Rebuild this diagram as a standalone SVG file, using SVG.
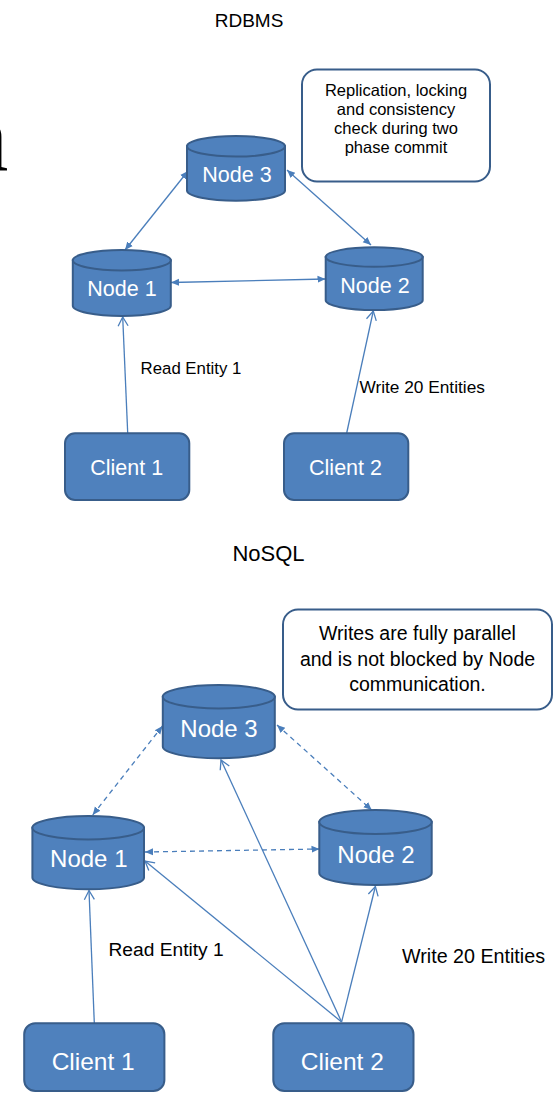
<svg xmlns="http://www.w3.org/2000/svg" width="558" height="1094" viewBox="0 0 558 1094">
<style>
  .title{font-family:"Liberation Sans",Arial,sans-serif;fill:#000;text-anchor:middle}
  .lbl{font-family:"Liberation Sans",Arial,sans-serif;fill:#000}
  .note{font-family:"Liberation Sans",Arial,sans-serif;fill:#000;text-anchor:middle}
  .ntxt{font-family:"Liberation Sans",Arial,sans-serif;fill:#fff;text-anchor:middle}
  .shape{fill:#4F81BD;stroke:#385D8A;stroke-width:2}
  .box{fill:#fff;stroke:#385D8A;stroke-width:2}
  .con{fill:none;stroke:#4A7EBB;stroke-width:1.3}
  .dash{stroke-dasharray:5 4}
</style>
<defs>
  <marker id="tri" markerUnits="userSpaceOnUse" markerWidth="10" markerHeight="10" refX="8" refY="5" orient="auto-start-reverse">
    <path d="M0,1.5 L8,5 L0,8.5 Z" fill="#4A7EBB"/>
  </marker>
  <marker id="vee" markerUnits="userSpaceOnUse" markerWidth="12" markerHeight="12" refX="10" refY="6" orient="auto-start-reverse">
    <path d="M1,1 L10,6 L1,11" fill="none" stroke="#4A7EBB" stroke-width="1.3"/>
  </marker>
</defs>

<text x="-41.5" y="170" font-family="Liberation Serif,serif" font-size="100" fill="#000">n</text>

<text class="title" x="249" y="27" font-size="19">RDBMS</text>
<text class="title" x="268.5" y="561" font-size="22">NoSQL</text>

<g id="connectors">
  <line class="con" x1="188" y1="171" x2="125" y2="250" marker-start="url(#tri)" marker-end="url(#tri)"/>
  <line class="con" x1="287" y1="170" x2="371" y2="245" marker-start="url(#tri)" marker-end="url(#tri)"/>
  <line class="con" x1="171" y1="282.5" x2="325.5" y2="279" marker-start="url(#tri)" marker-end="url(#tri)"/>
  <line class="con" x1="127.7" y1="433" x2="122.7" y2="317" marker-end="url(#vee)"/>
  <line class="con" x1="346.7" y1="433" x2="373.3" y2="311" marker-end="url(#vee)"/>

  <line class="con dash" x1="162.5" y1="726" x2="92.7" y2="815" marker-start="url(#tri)" marker-end="url(#tri)"/>
  <line class="con dash" x1="277" y1="725" x2="371.7" y2="810" marker-start="url(#tri)" marker-end="url(#tri)"/>
  <line class="con dash" x1="145" y1="852" x2="319.5" y2="849" marker-start="url(#tri)" marker-end="url(#tri)"/>
  <line class="con" x1="94.3" y1="1023" x2="89" y2="890.5" marker-end="url(#vee)"/>
  <line class="con" x1="341.6" y1="1022" x2="145" y2="861" marker-end="url(#vee)"/>
  <line class="con" x1="341.6" y1="1022" x2="221" y2="760" marker-end="url(#vee)"/>
  <line class="con" x1="341.6" y1="1022" x2="375.4" y2="886.5" marker-end="url(#vee)"/>
</g>

<g id="labels">
  <text class="lbl" x="140.6" y="374" font-size="16.8">Read Entity 1</text>
  <text class="lbl" x="359.4" y="393.3" font-size="17.3">Write 20 Entities</text>
  <text class="lbl" x="108.5" y="956" font-size="19.2">Read Entity 1</text>
  <text class="lbl" x="402" y="962.7" font-size="19.7">Write 20 Entities</text>
</g>

<g id="note1">
  <rect class="box" x="302" y="69.5" width="188" height="112" rx="15"/>
  <text class="note" x="396" y="96" font-size="16.5">Replication, locking</text>
  <text class="note" x="396" y="115" font-size="16.5">and consistency</text>
  <text class="note" x="396" y="134" font-size="16.5">check during two</text>
  <text class="note" x="396" y="153" font-size="16.5">phase commit</text>
</g>

<g id="note2">
  <rect class="box" x="283" y="609.5" width="269" height="100" rx="15"/>
  <text class="note" x="417.5" y="640" font-size="19.5">Writes are fully parallel</text>
  <text class="note" x="417.5" y="665.7" font-size="19.5">and is not blocked by Node</text>
  <text class="note" x="417.5" y="690.7" font-size="19.5">communication.</text>
</g>

<g id="r-node3">
  <path class="shape" d="M187,146.3 V190.4 A49,10.3 0 0 0 285,190.4 V146.3 Z"/>
  <ellipse class="shape" cx="236" cy="146.3" rx="49" ry="10.3"/>
  <text class="ntxt" x="237" y="181.7" font-size="21.5">Node 3</text>
</g>
<g id="r-node1">
  <path class="shape" d="M72.8,260.3 V305.7 A49,10.3 0 0 0 170.8,305.7 V260.3 Z"/>
  <ellipse class="shape" cx="121.8" cy="260.3" rx="49" ry="10.3"/>
  <text class="ntxt" x="122" y="296" font-size="21.5">Node 1</text>
</g>
<g id="r-node2">
  <path class="shape" d="M325.7,257 V300.3 A48.5,9.7 0 0 0 422.7,300.3 V257 Z"/>
  <ellipse class="shape" cx="374.2" cy="257" rx="48.5" ry="9.7"/>
  <text class="ntxt" x="375" y="293.3" font-size="21.5">Node 2</text>
</g>
<g id="r-client1">
  <rect class="shape" x="65" y="433.3" width="124.3" height="66.7" rx="10"/>
  <text class="ntxt" x="126.7" y="475" font-size="21.5">Client 1</text>
</g>
<g id="r-client2">
  <rect class="shape" x="284" y="433.3" width="124.3" height="66.7" rx="10"/>
  <text class="ntxt" x="345.5" y="475" font-size="21.5">Client 2</text>
</g>

<g id="n-node3">
  <path class="shape" d="M162.8,696.7 V746.6 A56,11.7 0 0 0 274.8,746.6 V696.7 Z"/>
  <ellipse class="shape" cx="218.8" cy="696.7" rx="56" ry="11.7"/>
  <text class="ntxt" x="219" y="736.7" font-size="24">Node 3</text>
</g>
<g id="n-node1">
  <path class="shape" d="M32.4,827.7 V877.6 A55.8,11.7 0 0 0 144,877.6 V827.7 Z"/>
  <ellipse class="shape" cx="88.2" cy="827.7" rx="55.8" ry="11.7"/>
  <text class="ntxt" x="88.8" y="866.7" font-size="24">Node 1</text>
</g>
<g id="n-node2">
  <path class="shape" d="M319.3,822 V873 A56.2,12 0 0 0 431.7,873 V822 Z"/>
  <ellipse class="shape" cx="375.5" cy="822" rx="56.2" ry="12"/>
  <text class="ntxt" x="376" y="862.7" font-size="24">Node 2</text>
</g>
<g id="n-client1">
  <rect class="shape" x="24.2" y="1023.3" width="140.2" height="67.7" rx="11"/>
  <text class="ntxt" x="93.2" y="1070" font-size="24.5">Client 1</text>
</g>
<g id="n-client2">
  <rect class="shape" x="273.3" y="1023.3" width="140.2" height="67.7" rx="11"/>
  <text class="ntxt" x="342.3" y="1070" font-size="24.5">Client 2</text>
</g>
</svg>
